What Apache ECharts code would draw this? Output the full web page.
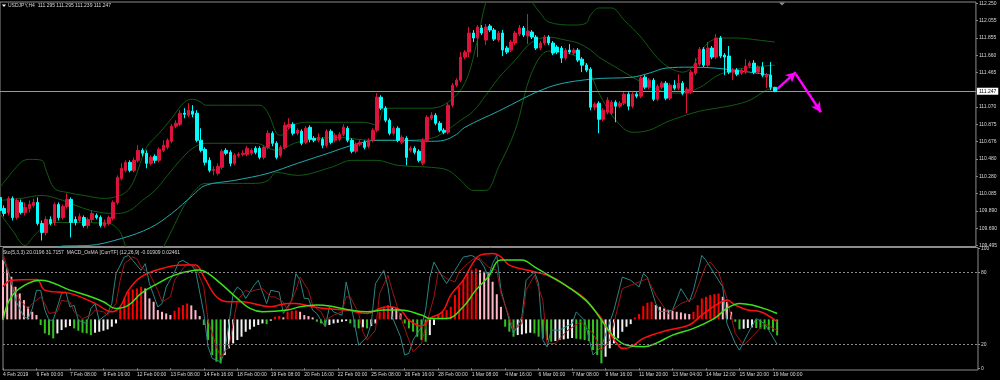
<!DOCTYPE html>
<html><head><meta charset="utf-8">
<script src="https://cdn.jsdelivr.net/npm/echarts@6/dist/echarts.min.js"></script>
<style>html,body{margin:0;padding:0;background:#000}#c{width:1000px;height:380px}</style>
</head><body><div id="c"></div>
<script>
// ---------- DATA ----------
const xTickLabels = ['4 Feb 2019','6 Feb 00:00','7 Feb 08:00','8 Feb 16:00','12 Feb 00:00','13 Feb 08:00','14 Feb 16:00','18 Feb 00:00','19 Feb 08:00','20 Feb 16:00','22 Feb 00:00','25 Feb 08:00','26 Feb 16:00','28 Feb 00:00','1 Mar 08:00','4 Mar 16:00','6 Mar 00:00','7 Mar 08:00','8 Mar 16:00','11 Mar 20:00','13 Mar 04:00','14 Mar 12:00','15 Mar 20:00','19 Mar 00:00'];
const priceTicks = [109.495,109.690,109.890,110.085,110.280,110.480,110.676,110.875,111.070,111.465,111.660,111.855,112.055,112.250];
const stochTicks = [0,20,80,100];
const lastPrice = 111.247;

const opens = [110.042,109.917,109.871,110.031,109.814,109.985,109.871,109.917,109.951,109.985,109.746,109.643,109.791,109.757,109.962,109.814,109.940,110.019,109.791,109.780,109.814,109.723,109.791,109.837,109.814,109.723,109.746,109.803,109.985,110.259,110.350,110.441,110.350,110.464,110.578,110.544,110.430,110.510,110.464,110.578,110.612,110.681,110.852,110.874,111.000,110.977,111.023,111.000,110.692,110.589,110.464,110.350,110.316,110.384,110.578,110.555,110.430,110.521,110.532,110.532,110.544,110.601,110.601,110.498,110.612,110.772,110.658,110.521,110.612,110.840,110.874,110.772,110.795,110.669,110.840,110.715,110.692,110.703,110.635,110.795,110.692,110.703,110.760,110.829,110.692,110.567,110.646,110.669,110.624,110.692,110.806,111.182,111.057,110.920,110.772,110.829,110.669,110.715,110.578,110.601,110.567,110.430,110.692,110.943,110.977,110.886,110.806,110.783,111.091,111.319,111.376,111.638,111.695,111.912,111.855,111.969,111.832,111.992,111.946,111.832,111.912,111.741,111.718,111.798,111.900,111.969,111.878,111.923,111.866,111.741,111.798,111.866,111.798,111.752,111.741,111.627,111.718,111.684,111.718,111.615,111.547,111.501,111.068,111.114,110.931,111.011,111.000,111.125,111.080,111.114,111.216,111.080,111.216,111.194,111.410,111.296,111.376,111.159,111.296,111.342,111.171,111.319,111.285,111.342,111.228,111.239,111.456,111.558,111.729,111.547,111.741,111.638,111.855,111.661,111.650,111.467,111.490,111.456,111.467,111.536,111.570,111.467,111.524,111.410,111.433,111.295];
const closes = [109.894,109.860,110.031,109.814,110.008,109.871,109.928,109.962,109.985,109.746,109.643,109.791,109.746,109.962,109.814,109.940,110.019,109.757,109.757,109.826,109.723,109.791,109.860,109.814,109.723,109.757,109.814,109.985,110.270,110.373,110.441,110.350,110.464,110.578,110.544,110.430,110.498,110.464,110.589,110.635,110.692,110.852,110.886,111.000,110.988,111.034,110.988,110.692,110.578,110.441,110.350,110.361,110.396,110.567,110.544,110.430,110.521,110.532,110.544,110.601,110.578,110.555,110.498,110.612,110.772,110.658,110.498,110.612,110.863,110.874,110.772,110.806,110.658,110.829,110.703,110.692,110.726,110.635,110.795,110.669,110.749,110.760,110.840,110.692,110.567,110.646,110.669,110.612,110.692,110.806,111.182,111.057,110.920,110.772,110.829,110.692,110.726,110.498,110.601,110.555,110.464,110.692,110.954,110.977,110.886,110.806,110.783,111.091,111.319,111.376,111.638,111.695,111.912,111.855,111.980,111.912,111.980,111.946,111.843,111.912,111.718,111.695,111.809,111.912,111.969,111.889,111.935,111.866,111.741,111.798,111.866,111.798,111.684,111.695,111.627,111.718,111.695,111.718,111.604,111.547,111.490,111.068,111.102,110.931,111.034,111.148,111.125,111.080,111.114,111.216,111.080,111.216,111.194,111.399,111.296,111.376,111.159,111.308,111.342,111.171,111.319,111.285,111.342,111.228,111.273,111.467,111.570,111.729,111.547,111.741,111.638,111.855,111.650,111.638,111.467,111.490,111.444,111.490,111.536,111.570,111.467,111.524,111.433,111.433,111.296,111.247];
const lows = [109.871,109.826,109.837,109.780,109.791,109.848,109.837,109.871,109.928,109.723,109.552,109.609,109.723,109.723,109.780,109.791,109.917,109.586,109.723,109.757,109.700,109.689,109.757,109.791,109.700,109.700,109.723,109.780,109.962,110.236,110.327,110.327,110.327,110.441,110.510,110.373,110.407,110.430,110.441,110.555,110.589,110.658,110.829,110.852,110.943,110.954,110.954,110.669,110.555,110.407,110.327,110.293,110.293,110.361,110.521,110.396,110.407,110.498,110.510,110.510,110.521,110.532,110.475,110.475,110.589,110.624,110.475,110.498,110.589,110.817,110.749,110.749,110.635,110.646,110.669,110.669,110.669,110.601,110.612,110.646,110.669,110.681,110.738,110.669,110.544,110.544,110.624,110.589,110.601,110.669,110.783,111.034,110.897,110.749,110.749,110.669,110.646,110.407,110.555,110.532,110.441,110.407,110.669,110.920,110.863,110.783,110.760,110.760,111.068,111.296,111.353,111.615,111.638,111.809,111.638,111.889,111.775,111.923,111.821,111.809,111.650,111.672,111.695,111.775,111.878,111.866,111.786,111.843,111.718,111.718,111.775,111.775,111.661,111.672,111.570,111.604,111.672,111.661,111.581,111.467,111.467,111.034,111.034,110.772,110.909,110.988,110.977,110.897,111.057,111.091,111.034,111.057,111.171,111.171,111.273,111.273,111.137,111.137,111.273,111.148,111.148,111.262,111.262,111.205,111.000,111.216,111.433,111.536,111.524,111.524,111.615,111.615,111.627,111.433,111.444,111.376,111.422,111.433,111.444,111.513,111.444,111.444,111.410,111.285,111.262,111.239];
const highs = [110.088,109.951,110.054,110.054,110.031,110.019,109.985,110.008,110.031,110.042,109.780,109.826,109.826,109.985,109.985,109.962,110.088,110.042,109.826,109.860,109.837,109.814,109.894,109.860,109.837,109.791,109.837,110.008,110.293,110.430,110.464,110.464,110.498,110.635,110.601,110.578,110.521,110.532,110.612,110.692,110.715,110.874,110.920,111.034,111.057,111.114,111.091,111.034,110.829,110.612,110.498,110.396,110.430,110.589,110.601,110.578,110.544,110.555,110.578,110.624,110.601,110.624,110.624,110.635,110.806,110.795,110.681,110.635,110.897,110.943,110.897,110.829,110.817,110.852,110.863,110.738,110.772,110.726,110.817,110.817,110.772,110.783,110.874,110.852,110.715,110.669,110.692,110.692,110.715,110.829,111.228,111.205,111.080,110.943,110.852,110.852,110.749,110.738,110.624,110.624,110.589,110.715,110.977,111.011,111.000,110.909,110.829,111.114,111.342,111.399,111.695,111.718,111.980,111.946,112.003,112.003,112.014,112.014,111.969,111.935,111.946,111.764,111.832,111.935,112.003,111.992,112.128,111.946,111.889,111.821,111.889,111.889,111.821,111.775,111.764,111.741,111.786,111.741,111.741,111.638,111.570,111.524,111.125,111.137,111.057,111.182,111.148,111.148,111.137,111.239,111.239,111.239,111.239,111.422,111.433,111.399,111.399,111.330,111.365,111.365,111.342,111.376,111.444,111.365,111.296,111.490,111.627,111.752,111.752,111.809,111.764,111.900,111.878,111.684,111.764,111.513,111.513,111.513,111.615,111.593,111.604,111.547,111.581,111.456,111.581,111.295];

// Bollinger bands and moving average, read at bar indices: [bar, price]
const bbUpper = [[0,110.156],[5,110.441],[7,110.475],[10,110.464],[11,110.350],[13,110.145],[16,110.099],[20,110.065],[25,110.031],[27,110.042],[30,110.099],[32,110.236],[35,110.612],[38,110.772],[41,110.943],[44,111.125],[46,111.159],[48,111.125],[49,111.091],[62,111.091],[64,111.000],[66,110.772],[67,110.749],[70,110.863],[73,110.897],[87,110.897],[90,110.863],[92,111.057],[103,111.057],[107,111.125],[111,111.342],[114,111.832],[116,112.265],[118,112.459],[122,112.573],[125,112.425],[127,112.265],[129,112.140],[131,112.037],[137,112.003],[140,112.026],[141,112.117],[143,112.197],[146,112.197],[149,112.060],[153,111.866],[157,111.627],[160,111.513],[163,111.467],[165,111.513],[167,111.661],[169,111.798],[172,111.855],[176,111.855],[181,111.832],[185,111.809]];
const bbMiddle = [[0,110.008],[5,110.031],[10,110.065],[15,110.008],[20,109.917],[24,109.871],[28,109.860],[31,109.894],[34,110.008],[37,110.122],[40,110.293],[43,110.464],[46,110.601],[49,110.658],[61,110.658],[66,110.578],[71,110.669],[80,110.726],[89,110.692],[95,110.692],[103,110.715],[106,110.783],[110,110.920],[113,111.023],[116,111.205],[119,111.399],[123,111.604],[127,111.809],[131,111.866],[135,111.832],[138,111.798],[141,111.718],[143,111.638],[147,111.524],[151,111.410],[155,111.308],[159,111.239],[162,111.228],[165,111.251],[168,111.319],[171,111.422],[175,111.490],[180,111.524],[185,111.547]];
const bbLower = [[0,109.860],[3,109.666],[6,109.495],[8,109.598],[10,109.689],[13,109.757],[17,109.757],[26,109.746],[28,109.689],[29,109.620],[30,109.484],[32,109.301],[36,109.210],[38,109.381],[41,109.666],[44,109.951],[47,110.145],[49,110.202],[61,110.202],[64,110.236],[66,110.327],[71,110.293],[79,110.384],[84,110.464],[90,110.464],[95,110.407],[103,110.384],[107,110.350],[110,110.236],[113,110.122],[116,110.122],[119,110.384],[123,110.806],[127,111.467],[131,111.707],[137,111.661],[140,111.547],[143,111.228],[147,110.920],[151,110.783],[155,110.806],[159,110.897],[163,110.966],[167,111.023],[171,111.057],[175,111.091],[179,111.148],[183,111.262],[185,111.296]];
const maLine = [[13,109.461],[15,109.489],[21,109.495],[29,109.575],[36,109.700],[41,109.860],[46,110.065],[49,110.179],[56,110.236],[64,110.316],[71,110.430],[79,110.555],[84,110.635],[90,110.692],[95,110.692],[103,110.681],[106,110.692],[109,110.760],[111,110.840],[119,111.023],[131,111.296],[141,111.387],[151,111.410],[155,111.456],[159,111.513],[165,111.524],[171,111.513],[175,111.490],[179,111.467],[184,111.433]];

// Stochastic (5,3,3): [bar, value]
const stochMain = [[0,91.6],[2,73.6],[3,56.9],[5,43.0],[6,41.6],[7,50.0],[8,65.2],[9,65.2],[10,48.6],[11,40.2],[12,40.2],[14,62.5],[15,63.8],[16,51.3],[17,52.7],[18,40.2],[20,37.4],[21,50.0],[22,54.1],[23,40.2],[25,45.8],[26,54.1],[27,79.1],[29,93.0],[30,94.4],[31,90.2],[33,81.9],[34,87.5],[35,70.8],[37,51.3],[38,54.1],[39,68.0],[41,80.5],[42,88.8],[43,90.2],[45,86.1],[46,81.9],[48,45.8],[49,18.0],[50,8.3],[52,5.5],[53,13.8],[54,37.4],[55,62.5],[56,68.0],[57,65.2],[58,58.3],[60,69.4],[61,73.6],[63,54.1],[64,65.2],[66,63.8],[67,45.8],[68,51.3],[69,56.9],[70,79.1],[71,73.6],[72,58.3],[73,58.3],[74,48.6],[75,45.8],[77,34.7],[78,51.3],[79,47.2],[81,44.4],[82,72.2],[83,56.9],[84,37.4],[85,19.4],[87,26.3],[88,37.4],[89,70.8],[91,81.9],[92,68.0],[93,43.0],[95,26.3],[96,11.1],[97,12.5],[98,23.6],[100,34.7],[101,48.6],[102,76.3],[103,88.8],[105,76.3],[106,70.8],[108,81.9],[109,87.5],[110,93.0],[112,94.4],[114,90.2],[115,84.7],[116,76.3],[117,87.5],[118,94.4],[119,65.2],[121,40.2],[122,29.1],[124,43.0],[125,73.6],[127,80.5],[128,70.8],[129,23.6],[130,18.0],[131,31.9],[133,31.9],[136,37.4],[137,47.2],[139,40.2],[141,11.1],[143,18.0],[146,48.6],[148,76.3],[150,73.6],[152,68.0],[153,79.1],[154,76.3],[156,54.1],[157,47.2],[160,48.6],[162,66.6],[164,55.5],[165,65.2],[167,94.4],[168,90.2],[170,79.1],[172,68.0],[173,37.4],[175,20.8],[176,15.2],[178,29.1],[180,41.6],[182,37.4],[183,31.9],[185,20.0]];
const stochSignal = [[0,95.8],[1,84.7],[2,70.8],[4,56.9],[6,49.9],[7,54.1],[9,59.7],[10,54.1],[11,45.8],[13,47.2],[14,56.9],[16,55.5],[17,47.2],[19,41.6],[21,44.4],[22,48.6],[24,47.2],[25,44.4],[27,54.1],[28,73.6],[29,87.5],[31,93.0],[32,91.6],[33,84.7],[35,79.1],[37,65.2],[38,55.5],[40,59.7],[41,73.6],[43,83.3],[44,87.5],[46,84.7],[48,68.0],[49,40.2],[51,18.0],[52,9.7],[54,18.0],[55,37.4],[56,56.9],[58,65.2],[59,63.8],[60,65.2],[62,66.6],[64,59.7],[65,59.7],[67,55.5],[68,48.6],[70,65.2],[71,76.3],[73,65.2],[74,52.7],[76,47.2],[77,40.2],[79,44.4],[81,47.2],[82,59.7],[83,59.7],[85,45.8],[86,30.5],[87,23.6],[89,31.9],[90,62.5],[92,77.7],[93,65.2],[95,43.0],[97,23.6],[98,13.8],[100,20.8],[101,34.7],[103,59.7],[104,80.5],[106,75.0],[108,72.2],[109,80.5],[111,87.5],[113,93.0],[114,91.6],[116,84.7],[118,81.9],[119,62.5],[121,43.0],[122,31.9],[124,37.4],[125,65.2],[127,77.7],[129,56.9],[130,20.8],[132,20.8],[135,31.9],[138,38.8],[141,29.1],[143,15.2],[145,23.6],[148,66.6],[151,70.8],[154,75.0],[156,61.1],[159,45.8],[162,54.1],[165,58.3],[168,86.1],[169,88.8],[171,80.5],[173,58.3],[175,29.1],[177,19.4],[179,26.3],[182,37.4],[185,31.6]];

// MACD OsMA histogram (one per bar) and its two lines
const osmaHist = [0.0707,0.0607,0.0508,0.0389,0.0310,0.0230,0.0151,0.0091,0.0052,-0.0067,-0.0167,-0.0187,-0.0226,-0.0167,-0.0127,-0.0095,-0.0079,-0.0107,-0.0135,-0.0159,-0.0167,-0.0187,-0.0159,-0.0147,-0.0135,-0.0119,-0.0087,-0.0048,0.0131,0.0250,0.0330,0.0357,0.0369,0.0389,0.0369,0.0250,0.0210,0.0111,0.0091,0.0071,0.0052,0.0103,0.0143,0.0171,0.0190,0.0167,0.0111,0.0040,-0.0067,-0.0246,-0.0425,-0.0504,-0.0524,-0.0425,-0.0345,-0.0286,-0.0246,-0.0206,-0.0147,-0.0119,-0.0087,-0.0067,-0.0048,-0.0056,-0.0016,0.0032,0.0040,0.0024,0.0091,0.0103,0.0107,0.0091,0.0052,0.0040,0.0024,-0.0028,-0.0048,-0.0079,-0.0067,-0.0048,-0.0040,-0.0028,-0.0020,-0.0048,-0.0095,-0.0107,-0.0095,-0.0107,-0.0079,-0.0048,0.0091,0.0151,0.0171,0.0151,0.0131,0.0071,-0.0048,-0.0107,-0.0147,-0.0206,-0.0246,-0.0266,-0.0187,-0.0067,0.0052,0.0091,0.0111,0.0151,0.0290,0.0389,0.0468,0.0548,0.0588,0.0607,0.0588,0.0568,0.0548,0.0449,0.0300,0.0150,-0.0087,-0.0147,-0.0206,-0.0187,-0.0179,-0.0167,-0.0159,-0.0167,-0.0206,-0.0226,-0.0246,-0.0266,-0.0258,-0.0246,-0.0238,-0.0230,-0.0222,-0.0230,-0.0238,-0.0246,-0.0258,-0.0365,-0.0425,-0.0524,-0.0445,-0.0345,-0.0286,-0.0226,-0.0147,-0.0087,-0.0056,0.0024,0.0064,0.0159,0.0199,0.0210,0.0171,0.0151,0.0131,0.0115,0.0103,0.0091,0.0083,0.0071,0.0064,0.0091,0.0171,0.0250,0.0270,0.0290,0.0302,0.0310,0.0270,0.0210,0.0091,-0.0028,-0.0119,-0.0111,-0.0103,-0.0095,-0.0103,-0.0111,-0.0119,-0.0127,-0.0147,-0.0191];
const macdRed = [[0,0.0389],[2,0.0468],[8,0.0476],[10,0.0349],[16,0.0310],[22,0.0191],[26,0.0091],[28,0.0151],[30,0.0349],[33,0.0508],[38,0.0607],[43,0.0647],[46,0.0647],[48,0.0508],[51,0.0270],[54,0.0210],[57,0.0210],[64,0.0151],[68,0.0191],[70,0.0191],[74,0.0151],[77,0.0131],[82,0.0111],[87,0.0071],[90,0.0131],[92,0.0151],[95,0.0111],[97,-0.0008],[100,-0.0079],[102,0.0012],[105,0.0091],[107,0.0290],[110,0.0468],[112,0.0647],[114,0.0766],[117,0.0786],[119,0.0746],[121,0.0647],[127,0.0568],[131,0.0508],[135,0.0389],[139,0.0250],[141,0.0131],[143,0.0012],[145,-0.0167],[147,-0.0306],[148,-0.0345],[150,-0.0330],[153,-0.0226],[159,-0.0127],[164,-0.0067],[167,0.0052],[171,0.0191],[173,0.0230],[175,0.0171],[178,0.0111],[181,0.0091],[185,-0.0028]];
const macdGreen = [[0,-0.0008],[2,0.0270],[6,0.0429],[9,0.0468],[16,0.0349],[21,0.0270],[24,0.0210],[27,0.0131],[30,0.0171],[33,0.0310],[37,0.0429],[41,0.0528],[47,0.0588],[49,0.0548],[52,0.0429],[56,0.0250],[59,0.0131],[62,0.0091],[68,0.0111],[71,0.0151],[75,0.0171],[79,0.0151],[83,0.0111],[87,0.0091],[91,0.0111],[95,0.0111],[100,0.0052],[102,0.0012],[106,0.0012],[110,0.0151],[113,0.0349],[116,0.0508],[119,0.0707],[124,0.0707],[127,0.0627],[131,0.0508],[135,0.0389],[140,0.0191],[143,-0.0008],[146,-0.0206],[149,-0.0306],[153,-0.0326],[156,-0.0286],[160,-0.0187],[165,-0.0107],[170,0.0012],[173,0.0131],[176,0.0191],[179,0.0171],[183,0.0111],[185,0.0071]];

// projected path drawn by the analyst (magenta arrows): [bar, price]
const arrowUp = [[185,111.251],[190,111.467]];
const arrowDown = [[190,111.444],[196,111.011]];

// ---------- CHART ----------
const SLOTS = 234;
const slots = Array.from({length: SLOTS}, (_, i) => String(i));
const FONT = 'Liberation Sans';
const FS = 5;
const TXT = '#d8d8d8';
const BORDER = '#8c8c8c';

const candleData = opens.map((o, i) => [o, closes[i], lows[i], highs[i]]);
const histData = osmaHist.map((v, i) => {
  const prev = i > 0 ? osmaHist[i - 1] : v + 1;
  let c;
  if (v >= 0) c = v > prev ? '#ff0000' : '#ffb6c6';
  else c = v < prev ? '#35c41f' : '#f2f2f2';
  return {value: v, itemStyle: {color: c}};
});

const chart = echarts.init(document.getElementById('c'), null, {renderer: 'canvas'});
const tickEvery8 = (idx) => idx % 8 === 0 && idx / 8 < xTickLabels.length;

chart.setOption({
  backgroundColor: '#000000',
  animation: false,
  textStyle: {fontFamily: FONT},
  grid: [
    {left: 0, top: 2, width: 978, height: 244.5, show: true, borderColor: BORDER, borderWidth: 1, backgroundColor: 'transparent'},
    {left: 0, top: 247.5, width: 978, height: 122.5, show: true, borderColor: BORDER, borderWidth: 1, backgroundColor: 'transparent'}
  ],
  xAxis: [
    {type: 'category', gridIndex: 0, data: slots, boundaryGap: false, show: false},
    {type: 'category', gridIndex: 1, data: slots, boundaryGap: false,
      axisLine: {show: false},
      axisTick: {show: true, interval: tickEvery8, length: 2, inside: false, lineStyle: {color: BORDER}},
      axisLabel: {show: true, interval: tickEvery8, align: 'left', margin: 2.5, color: TXT, fontSize: FS, fontFamily: FONT,
        formatter: (v, idx) => xTickLabels[idx / 8] || ''},
      splitLine: {show: false}}
  ],
  yAxis: [
    {type: 'value', gridIndex: 0, position: 'right', min: 109.484, max: 112.265, scale: true,
      axisLine: {show: false}, splitLine: {show: false},
      axisTick: {show: true, length: 2, customValues: priceTicks, lineStyle: {color: BORDER}},
      axisLabel: {show: true, customValues: priceTicks, margin: 3, color: TXT, fontSize: FS, fontFamily: FONT,
        formatter: v => v.toFixed(3)}},
    {type: 'value', gridIndex: 1, position: 'right', min: -1.4, max: 101,
      axisLine: {show: false}, splitLine: {show: false},
      axisTick: {show: true, length: 2, customValues: stochTicks, lineStyle: {color: BORDER}},
      axisLabel: {show: true, customValues: stochTicks, margin: 3, color: TXT, fontSize: FS, fontFamily: FONT}},
    {type: 'value', gridIndex: 1, position: 'right', min: -0.0603, max: 0.0857, show: false, splitLine: {show: false}}
  ],
  series: [
    {type: 'line', name: 'bbUpper', xAxisIndex: 0, yAxisIndex: 0, data: bbUpper, showSymbol: false, smooth: 0.35, z: 2,
      lineStyle: {color: '#135a13', width: 1}},
    {type: 'line', name: 'bbMiddle', xAxisIndex: 0, yAxisIndex: 0, data: bbMiddle, showSymbol: false, smooth: 0.35, z: 2,
      lineStyle: {color: '#135a13', width: 1}},
    {type: 'line', name: 'bbLower', xAxisIndex: 0, yAxisIndex: 0, data: bbLower, showSymbol: false, smooth: 0.35, z: 2,
      lineStyle: {color: '#135a13', width: 1}},
    {type: 'line', name: 'ma', xAxisIndex: 0, yAxisIndex: 0, data: maLine, showSymbol: false, smooth: 0.35, z: 3,
      lineStyle: {color: '#22a9ad', width: 1}},
    {type: 'candlestick', name: 'USDJPY', xAxisIndex: 0, yAxisIndex: 0, data: candleData, barWidth: 3, z: 5,
      itemStyle: {color: '#dc143c', color0: '#00ffff', borderColor: '#dc143c', borderColor0: '#00ffff', borderWidth: 1},
      markLine: {silent: true, symbol: 'none', animation: false,
        data: [
          {yAxis: lastPrice, lineStyle: {color: '#9a9a9a', width: 1, type: 'solid'},
            label: {show: true, position: 'end', distance: 1, formatter: lastPrice.toFixed(3), color: '#000', backgroundColor: '#ffffff',
              fontSize: FS, fontFamily: FONT, padding: [1, 2, 1, 2]}},
          [{coord: arrowUp[0], symbol: 'none', lineStyle: {color: '#ff00ff', width: 2.5, type: 'solid'}, label: {show: false}},
           {coord: arrowUp[1], symbol: 'arrow', symbolSize: [8, 10]}],
          [{coord: arrowDown[0], symbol: 'none', lineStyle: {color: '#ff00ff', width: 2.5, type: 'solid'}, label: {show: false}},
           {coord: arrowDown[1], symbol: 'arrow', symbolSize: [8, 10]}]
        ]}},
    {type: 'bar', name: 'OsMA', xAxisIndex: 1, yAxisIndex: 2, data: histData, barWidth: 2, z: 2},
    {type: 'line', name: 'stochMain', xAxisIndex: 1, yAxisIndex: 1, data: stochMain, showSymbol: false, z: 3,
      lineStyle: {color: '#2b8585', width: 1},
      markLine: {silent: true, symbol: 'none', label: {show: false},
        lineStyle: {color: '#8a8a8a', type: [2, 2], width: 1},
        data: [{yAxis: 20}, {yAxis: 80}]}},
    {type: 'line', name: 'stochSignal', xAxisIndex: 1, yAxisIndex: 1, data: stochSignal, showSymbol: false, z: 3,
      lineStyle: {color: '#a01414', width: 1}},
    {type: 'line', name: 'macdRed', xAxisIndex: 1, yAxisIndex: 2, data: macdRed, showSymbol: false, smooth: 0.4, z: 4,
      lineStyle: {color: '#ff1010', width: 1.5}},
    {type: 'line', name: 'macdGreen', xAxisIndex: 1, yAxisIndex: 2, data: macdGreen, showSymbol: false, smooth: 0.4, z: 4,
      lineStyle: {color: '#3be21c', width: 1.5}}
  ],
  graphic: [
    {type: 'polygon', shape: {points: [[2, 4.5], [6, 4.5], [4, 7]]}, style: {fill: '#ffffff'}, z: 10},
    {type: 'text', left: 8, top: 3.5, z: 10, style: {text: 'USDJPY,H4  111.295 111.295 111.239 111.247', fill: TXT, font: FS + 'px "' + FONT + '"'}},
    {type: 'polygon', shape: {points: [[779, 2.5], [785, 2.5], [782, 5.5]]}, style: {fill: '#8a8a8a'}, z: 10},
    {type: 'text', left: 3, top: 250, z: 10, style: {text: 'Sto(5,3,3) 20.0196 31.7157  MACD_OsMA [CurrTF] (12,26,9) -0.01909 0.02461', fill: TXT, font: FS + 'px "' + FONT + '"'}}
  ]
});
</script>
</body></html>
